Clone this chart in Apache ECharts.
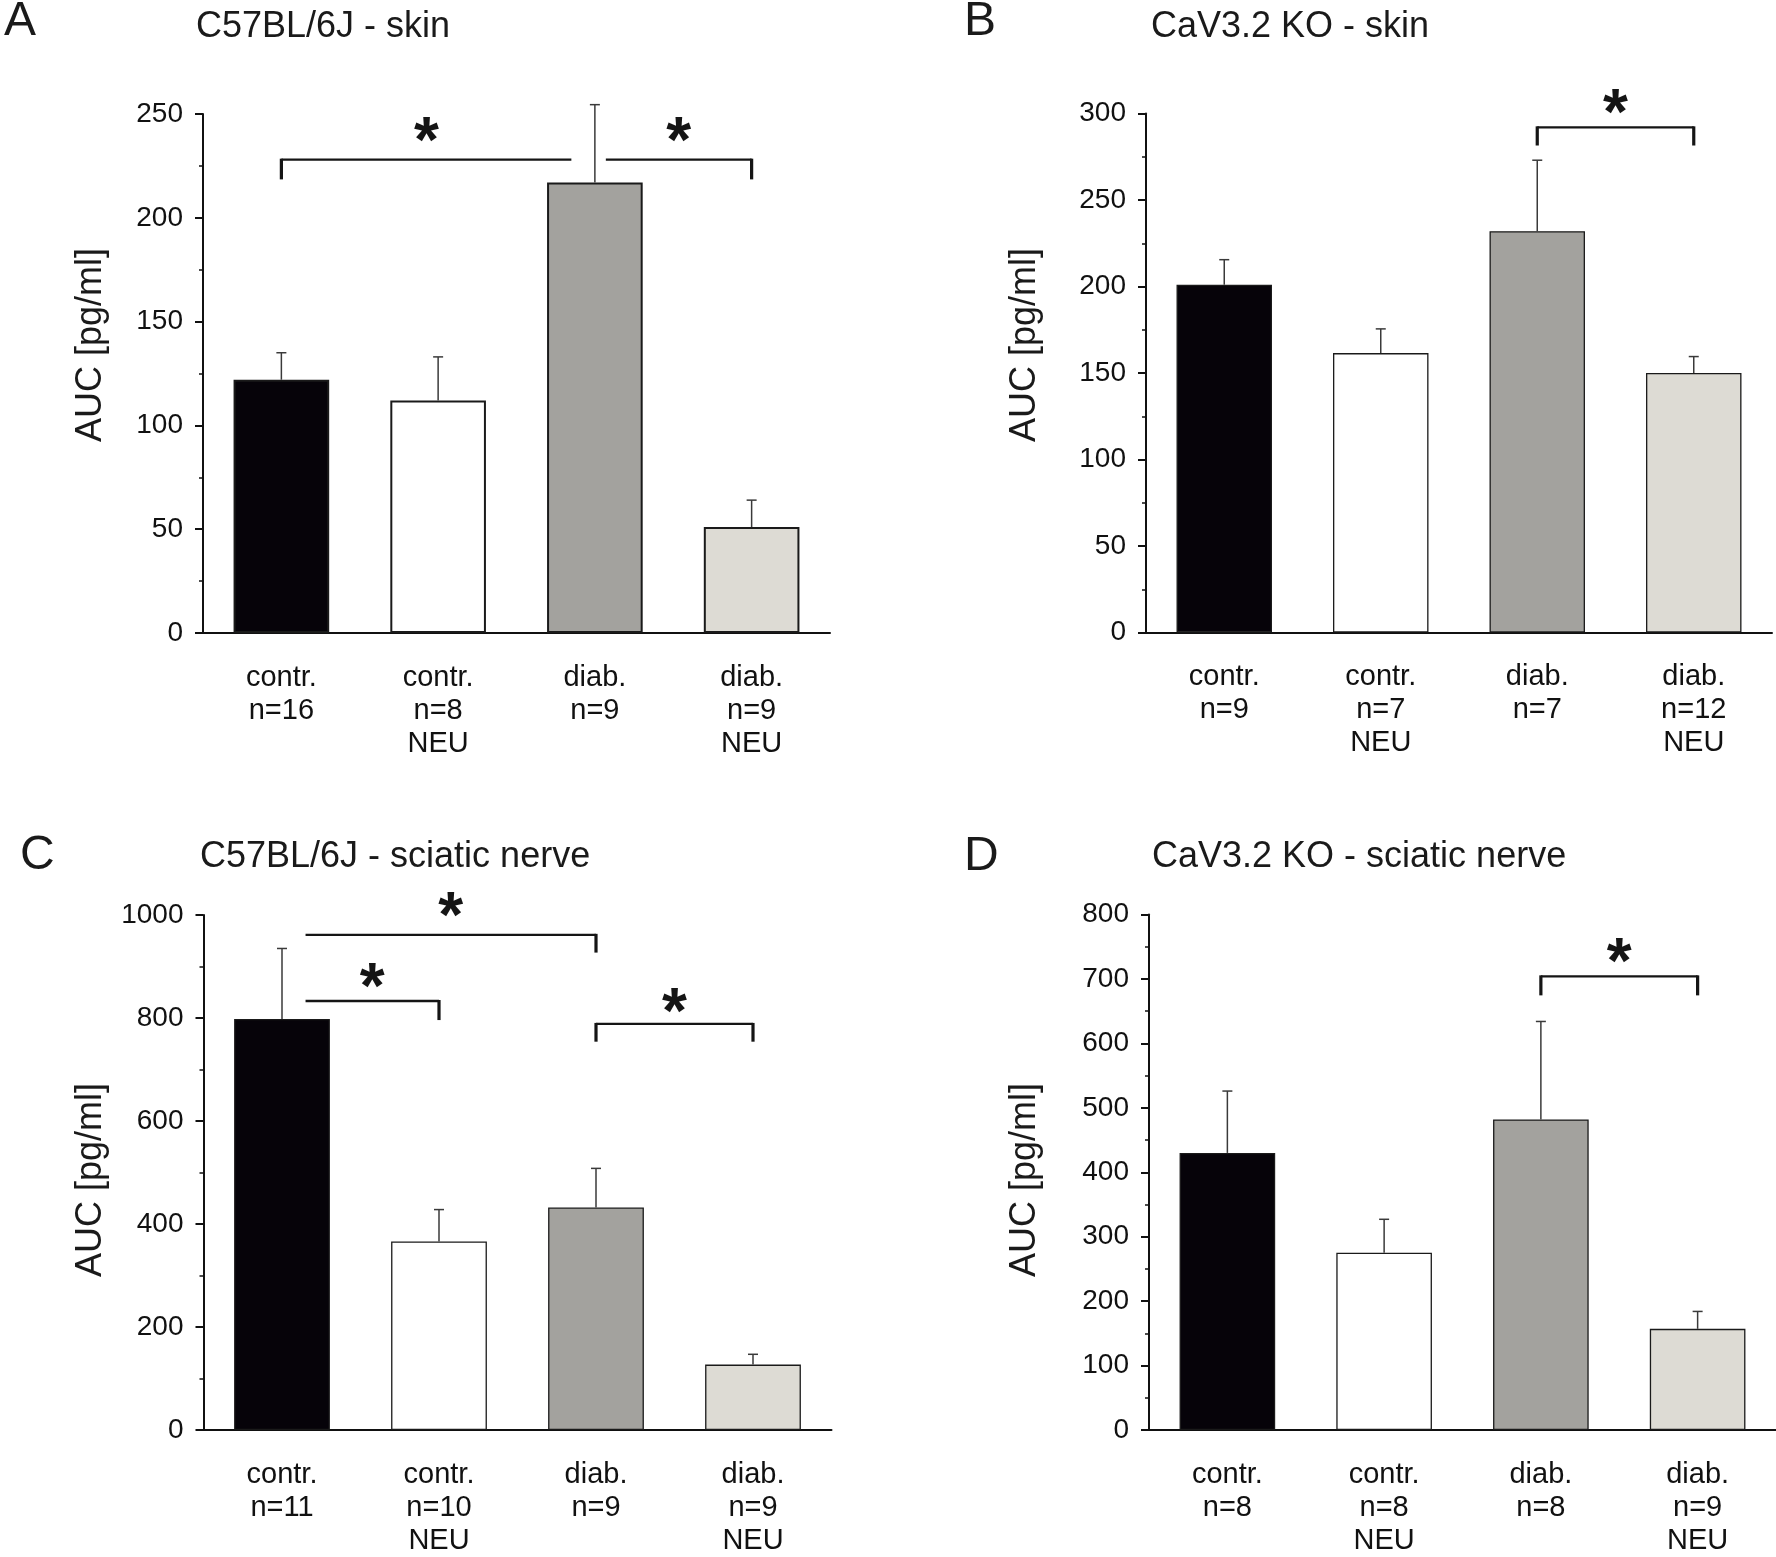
<!DOCTYPE html>
<html>
<head>
<meta charset="utf-8">
<script src="https://cdn.jsdelivr.net/npm/echarts@6/dist/echarts.min.js"></script>
<style>
html,body{margin:0;padding:0;background:#ffffff;}
#c{width:1776px;height:1557px;}
</style>
</head>
<body>
<div id="c"></div>
<script>
// ---------- data ----------
const catsA = ['contr.\nn=16', 'contr.\nn=8\nNEU', 'diab.\nn=9', 'diab.\nn=9\nNEU'];
const meanA = [122, 112, 217, 51];
const errTopA = [135, 133, 254.5, 64];

const catsB = ['contr.\nn=9', 'contr.\nn=7\nNEU', 'diab.\nn=7', 'diab.\nn=12\nNEU'];
const meanB = [201, 161.5, 232, 150];
const errTopB = [215.5, 175.5, 273, 159.5];

const catsC = ['contr.\nn=11', 'contr.\nn=10\nNEU', 'diab.\nn=9', 'diab.\nn=9\nNEU'];
const meanC = [798, 366, 432, 127];
const errTopC = [935, 428, 508, 147];

const catsD = ['contr.\nn=8', 'contr.\nn=8\nNEU', 'diab.\nn=8', 'diab.\nn=9\nNEU'];
const meanD = [430, 275, 482, 157];
const errTopD = [526, 327, 634, 184];

// y axis ranges (min, max, interval)
const yAxisA = [0, 250, 50];
const yAxisB = [0, 300, 50];
const yAxisC = [0, 1000, 200];
const yAxisD = [0, 800, 100];

// significance brackets in data units: [fromCat, toCat, lineY, tickEndY, tickLeft, tickRight, starY]
const bracketsA = [[0, 1.85, 228, 218.5, 1, 0, 242], [2.07, 3, 228, 218.5, 0, 1, 242]];
const bracketsB = [[2, 3, 292, 281.5, 1, 1, 306.5]];
const bracketsC = [[0.15, 2, 961.5, 927, 0, 1, 1019], [0.15, 1, 833, 796, 0, 1, 881], [2, 3, 788.5, 754, 1, 1, 833]];
const bracketsD = [[2, 3, 704, 674.5, 1, 1, 743]];

const panelLetters = ['A', 'B', 'C', 'D'];
const panelTitles = ['C57BL/6J - skin', 'CaV3.2 KO - skin', 'C57BL/6J - sciatic nerve', 'CaV3.2 KO - sciatic nerve'];
const yTitle = 'AUC [pg/ml]';

// ---------- styles ----------
const FONT = '"Liberation Sans", Arial, Helvetica, sans-serif';
const barColors = ['#060309', '#ffffff', '#a3a29e', '#dddbd4'];
const INK = '#111111';

const panels = [
  {cats: catsA, mean: meanA, err: errTopA, y: yAxisA, br: bracketsA, border: 2,
   grid: {left: 203, top: 114, width: 627, height: 519},
   letter: [4, 22], title: [196, 27], ytitle: [91, 345]},
  {cats: catsB, mean: meanB, err: errTopB, y: yAxisB, br: bracketsB, border: 1.3,
   grid: {left: 1146, top: 113.5, width: 626, height: 519},
   letter: [964, 22], title: [1151, 27], ytitle: [1025, 345]},
  {cats: catsC, mean: meanC, err: errTopC, y: yAxisC, br: bracketsC, border: 1.3,
   grid: {left: 203.5, top: 915, width: 628, height: 525},
   letter: [20, 856], title: [200, 857], ytitle: [91, 1180]},
  {cats: catsD, mean: meanD, err: errTopD, y: yAxisD, br: bracketsD, border: 1.3,
   grid: {left: 1149, top: 914.5, width: 628, height: 525.5},
   letter: [964, 857], title: [1152, 857], ytitle: [1025, 1180]}
];

function errRender(params, api) {
  const x = api.value(0);
  const p0 = api.coord([x, api.value(1)]);
  const p1 = api.coord([x, api.value(2)]);
  const cap = 5;
  return {
    type: 'group',
    children: [
      {type: 'line', shape: {x1: p0[0], y1: p0[1], x2: p1[0], y2: p1[1]}, style: {stroke: '#3a3a3a', lineWidth: 1.5}},
      {type: 'line', shape: {x1: p1[0] - cap, y1: p1[1], x2: p1[0] + cap, y2: p1[1]}, style: {stroke: '#3a3a3a', lineWidth: 1.5}}
    ]
  };
}

function makeBracketRender(list) {
  return function (params, api) {
    const b = list[params.dataIndex];
    const c0 = api.coord([0, b[2]]);
    const c1 = api.coord([1, b[2]]);
    const band = c1[0] - c0[0];
    const xL = c0[0] + b[0] * band;
    const xR = c0[0] + b[1] * band;
    const yL = c0[1];
    const yT = api.coord([0, b[3]])[1];
    const yS = api.coord([0, b[6]])[1];
    const fs = 64;
    const children = [
      {type: 'line', shape: {x1: xL, y1: yL, x2: xR, y2: yL}, style: {stroke: '#151515', lineWidth: 2.3}}
    ];
    if (b[4]) children.push({type: 'line', shape: {x1: xL, y1: yL - 1, x2: xL, y2: yT}, style: {stroke: '#151515', lineWidth: 3.2}});
    if (b[5]) children.push({type: 'line', shape: {x1: xR, y1: yL - 1, x2: xR, y2: yT}, style: {stroke: '#151515', lineWidth: 3.2}});
    children.push({type: 'text', style: {text: '*', x: (xL + xR) / 2, y: yS + 0.22 * fs, align: 'center', verticalAlign: 'middle',
      fontSize: fs, fontWeight: 'bold', fontFamily: FONT, fill: '#151515'}});
    return {type: 'group', children: children};
  };
}

const grid = [], xAxis = [], yAxis = [], series = [], graphic = [];
panels.forEach(function (p, k) {
  grid.push(Object.assign({containLabel: false}, p.grid));
  xAxis.push({
    type: 'category', gridIndex: k, data: p.cats,
    axisTick: {show: false},
    axisLine: {show: true, lineStyle: {color: INK, width: 2}},
    axisLabel: {interval: 0, margin: 28, fontSize: 29, lineHeight: 33, color: INK, fontFamily: FONT}
  });
  yAxis.push({
    type: 'value', gridIndex: k, min: p.y[0], max: p.y[1], interval: p.y[2],
    splitLine: {show: false},
    axisLine: {show: true, lineStyle: {color: INK, width: 2}},
    axisTick: {show: true, length: 8, lineStyle: {color: INK, width: 2}},
    minorTick: {show: true, splitNumber: 2, length: 4, lineStyle: {color: INK, width: 1.5}},
    axisLabel: {margin: 20, fontSize: 28, color: INK, fontFamily: FONT,
      formatter: function (v) { return String(v); }}
  });
  series.push({
    type: 'bar', xAxisIndex: k, yAxisIndex: k, barCategoryGap: '39%',
    data: p.mean.map(function (v, i) { return {value: v, itemStyle: {color: barColors[i]}}; }),
    itemStyle: {borderColor: '#1a1a1a', borderWidth: p.border},
    silent: true, z: 2
  });
  series.push({
    type: 'custom', xAxisIndex: k, yAxisIndex: k, clip: false, z: 3, silent: true,
    data: p.mean.map(function (v, i) { return [i, v, p.err[i]]; }),
    encode: {x: 0, y: [1, 2]},
    renderItem: errRender
  });
  series.push({
    type: 'custom', xAxisIndex: k, yAxisIndex: k, clip: false, z: 4, silent: true,
    data: p.br.map(function (b) { return [Math.round(b[0]), b[2]]; }),
    encode: {x: 0, y: 1},
    renderItem: makeBracketRender(p.br)
  });
  graphic.push({type: 'text', x: p.letter[0], y: p.letter[1], silent: true,
    style: {text: panelLetters[k], font: '48px ' + FONT, fill: '#1a1a1a', align: 'left', verticalAlign: 'middle'}});
  graphic.push({type: 'text', x: p.title[0], y: p.title[1], silent: true,
    style: {text: panelTitles[k], font: '36px ' + FONT, fill: '#1a1a1a', align: 'left', verticalAlign: 'middle'}});
  graphic.push({type: 'text', x: p.ytitle[0], y: p.ytitle[1], rotation: Math.PI / 2, silent: true,
    style: {text: yTitle, font: '36px ' + FONT, fill: '#1a1a1a', align: 'center', verticalAlign: 'middle'}});
});

const chart = echarts.init(document.getElementById('c'), null, {renderer: 'canvas', width: 1776, height: 1557});
chart.setOption({
  animation: false,
  backgroundColor: '#ffffff',
  grid: grid, xAxis: xAxis, yAxis: yAxis, series: series, graphic: graphic
});
</script>
</body>
</html>
